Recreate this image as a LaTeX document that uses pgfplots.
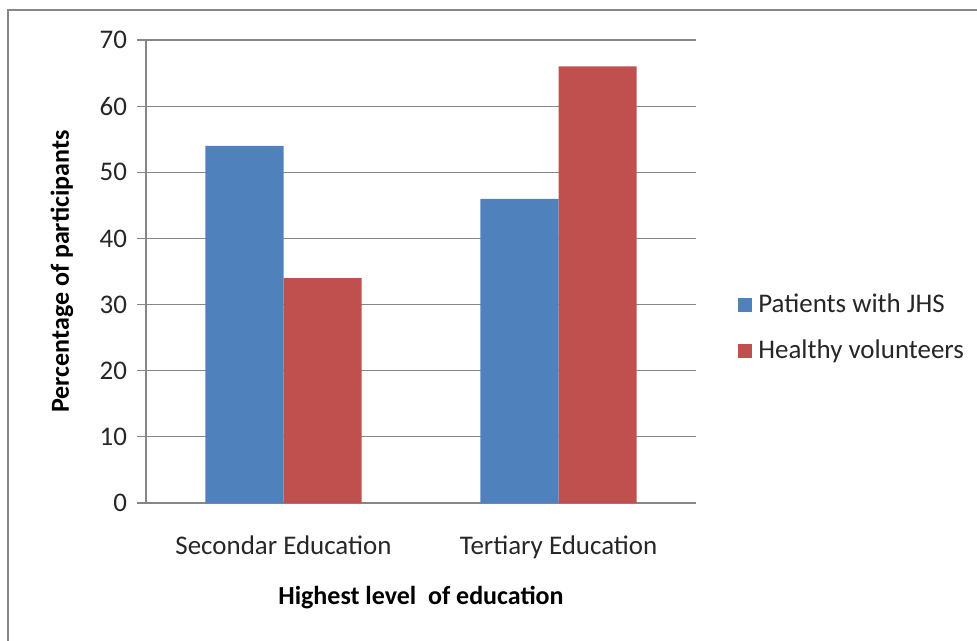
\documentclass[border=0pt]{standalone}
\usepackage{fontspec}
\setmainfont{Carlito}
\usepackage{pgfplots}
\pgfplotsset{compat=1.18}
\definecolor{xlblue}{HTML}{4F81BD}
\definecolor{xlred}{HTML}{C0504D}
\definecolor{gridgray}{HTML}{868686}
\begin{document}
\begin{tikzpicture}
% page = 977x640 px at 0.75pt per px
\useasboundingbox (0,0) rectangle (732.75pt,-480pt);
\draw[gridgray,line width=0.9pt] (6pt,-7.5pt) rectangle (745pt,-490pt);
\begin{axis}[
  at={(109.5pt,-377.25pt)}, anchor=south west,
  scale only axis, width=412.5pt, height=347.25pt,
  ybar=0pt, bar width=0.284,
  xmin=-0.5, xmax=1.5, ymin=0, ymax=70,
  xtick={0,1}, xticklabels={Secondar Education,Tertiary Education},
  ytick={0,10,...,70},
  axis x line*=bottom, axis y line*=left,
  axis line style={gridgray,line width=0.8pt,-},
  x tick style={draw=none},
  y tick style={gridgray,line width=0.8pt},
  tick align=outside, major tick length=6.75pt,
  ymajorgrids, grid style={gridgray,line width=0.8pt},
  ticklabel style={font=\fontsize{20.2}{24}\selectfont, text=black!85},
  /pgf/number format/assume math mode=true,
  xticklabel style={yshift=-14.5pt},
  yticklabel style={xshift=-4pt},
  ylabel={\textbf{Percentage of participants}},
  xlabel={\textbf{Highest level\ \ of education}},
  label style={font=\fontsize{19.5}{23}\selectfont},
  ylabel style={at={(axis description cs:-0.1527,0.5)}, anchor=center},
  xlabel style={at={(axis description cs:0.5,-0.205)}, anchor=center},
  legend style={at={(axis description cs:1.068,0.379)}, anchor=west, draw=none,
    font=\fontsize{20.2}{24}\selectfont, row sep=15pt, text=black!85},
  legend cell align=left,
  legend image code/.code={\fill[#1] (0pt,-5.25pt) rectangle (10.5pt,5.25pt);
    \path (13.5pt,0pt);},
]
\addplot[fill=xlblue, draw=none] coordinates {(0,54) (1,46)};
\addplot[fill=xlred, draw=none] coordinates {(0,34) (1,66)};
\legend{Patients with JHS,Healthy volunteers}
\end{axis}
\end{tikzpicture}
\end{document}
